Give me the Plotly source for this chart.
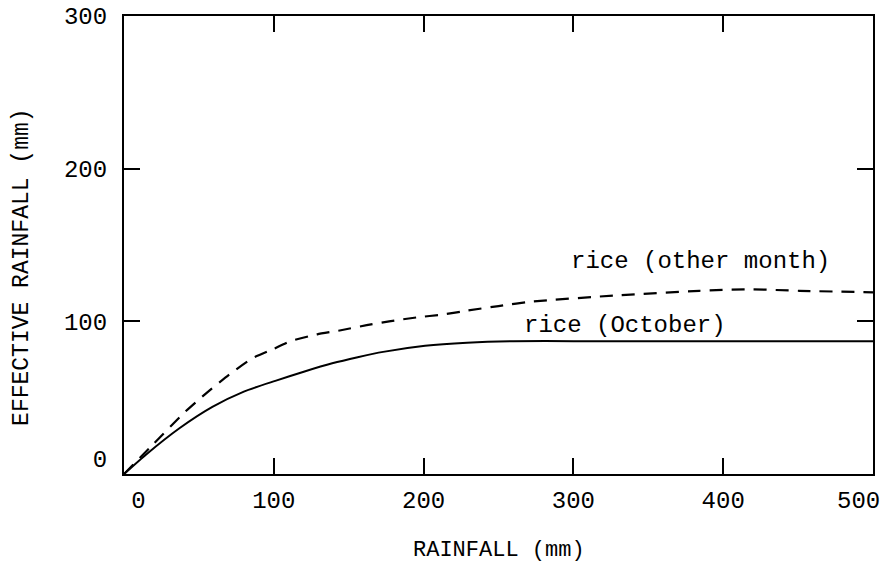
import plotly.graph_objects as go

# Data
rain_oct = [0, 15, 37, 59, 80, 101, 120, 139, 156, 173, 201, 229, 260, 300, 400, 500]
eff_oct = [0, 13, 30, 44, 54, 61, 67, 72.5, 76.5, 80, 84, 86, 87, 87, 87, 87]

rain_other = [0, 20, 40, 55, 70, 86, 100, 111, 129, 144, 162, 177, 195, 213, 229, 250, 273, 329, 384, 417, 451, 500]
eff_other = [0, 20, 40, 53, 65, 76, 82, 87, 91.5, 94, 97.5, 100, 102.5, 104.5, 107, 110, 113, 117, 120, 121, 120, 119]

x_ticks = [0, 100, 200, 300, 400, 500]
x_tick_labels = ["\u00a0\u00a00", "100", "200", "300", "400", "500\u00a0\u00a0"]
y_ticks = [0, 100, 200, 300]
y_tick_labels = ["0<br>\u00a0", "100", "200", "300"]

label_other = "rice (other month)"
label_oct = "rice (October)"
x_title = "RAINFALL (mm)"
y_title = "EFFECTIVE RAINFALL (mm)"

FONT = "Courier New, Liberation Mono, monospace"

fig = go.Figure()
fig.add_trace(go.Scatter(x=rain_other, y=eff_other, mode="lines",
                         line=dict(color="black", width=2.2, dash="13px,9px", shape="spline", smoothing=0.5),
                         showlegend=False, hoverinfo="skip"))
fig.add_trace(go.Scatter(x=rain_oct, y=eff_oct, mode="lines",
                         line=dict(color="black", width=2, shape="spline", smoothing=0.6),
                         showlegend=False, hoverinfo="skip"))

fig.add_annotation(x=297, y=139, xref="x", yref="y", text=label_other, showarrow=False,
                   xanchor="left", yanchor="middle", font=dict(family=FONT, size=24, color="black"))
fig.add_annotation(x=266, y=97.5, xref="x", yref="y", text=label_oct, showarrow=False,
                   xanchor="left", yanchor="middle", font=dict(family=FONT, size=24, color="black"))

fig.add_annotation(x=0.5, y=0, xref="paper", yref="paper", text=x_title, showarrow=False,
                   xanchor="center", yanchor="middle", yshift=-76,
                   font=dict(family=FONT, size=22, color="black"))
fig.add_annotation(x=0, y=0.45, xref="paper", yref="paper", text=y_title, showarrow=False,
                   xanchor="center", yanchor="middle", xshift=-102, textangle=-90,
                   font=dict(family=FONT, size=23, color="black"))

axis_common = dict(showgrid=False, zeroline=False, showline=True, linecolor="black", linewidth=2,
                   mirror="ticks", ticks="inside", ticklen=16, tickwidth=2, tickcolor="black",
                   automargin=False, ticklabeloverflow="allow",
                   tickfont=dict(family=FONT, size=24, color="black"))

fig.update_xaxes(range=[0, 500], tickvals=x_ticks, ticktext=x_tick_labels,
                 ticklabelstandoff=3, **axis_common)
fig.update_yaxes(range=[0, 300], tickvals=y_ticks, ticktext=y_tick_labels,
                 ticklabelstandoff=10, **axis_common)

# page body has an 8px margin, so the figure is made 8px smaller on each side
fig.update_layout(width=880, height=555,
                  margin=dict(l=116, r=15, t=8, b=89),
                  paper_bgcolor="white", plot_bgcolor="white",
                  font=dict(family=FONT, color="black"))

fig.write_html("out.html")
